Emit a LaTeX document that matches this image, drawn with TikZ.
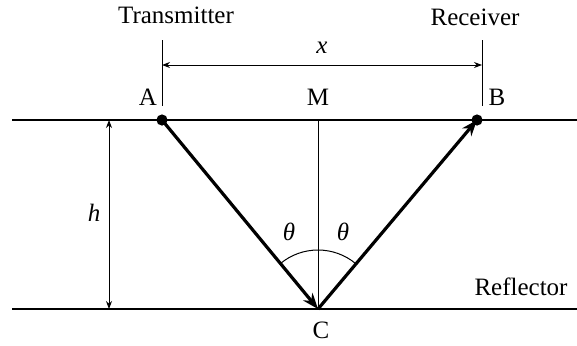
\documentclass[tikz,border=0pt]{standalone}
\usepackage{fontspec}
\setmainfont{Liberation Serif}
\usetikzlibrary{arrows.meta}

\begin{document}
\begin{tikzpicture}[x=0.5pt, y=0.5pt, font=\fontsize{12.5}{15}\selectfont,
    ray/.style={line width=1.6pt, -{Stealth[length=8pt, width=6pt]}},
    layer/.style={line width=1.2pt},
    thinline/.style={line width=0.5pt},
    dimline/.style={line width=0.5pt, {Stealth[length=4pt, width=3pt]}-{Stealth[length=4pt, width=3pt]}}]
    \useasboundingbox (0,0) rectangle (577,345);
    % points on the surface and the reflector
    \coordinate (A) at (162,225);
    \coordinate (B) at (477,225);
    \coordinate (M) at (318,225);
    \coordinate (C) at (318,36);
    \coordinate (surfL) at (12,225);
    \coordinate (surfR) at (577,225);
    \coordinate (reflL) at (12,36);
    \coordinate (reflR) at (577,36);
    \draw[layer] (surfL) -- (surfR);
    \draw[layer] (reflL) -- (reflR);
    % dimension x
    \coordinate (extAtop) at (162,305);
    \coordinate (extAbot) at (162,239);
    \coordinate (extBtop) at (482,305);
    \coordinate (extBbot) at (482,239);
    \draw[thinline] (extAtop) -- (extAbot);
    \draw[thinline] (extBtop) -- (extBbot);
    \coordinate (dimA) at (162,280);
    \coordinate (dimB) at (482,280);
    \draw[dimline] (dimA) -- node[name=xlab, above=2pt] {\textit{x}} (dimB);
    % dimension h
    \coordinate (hTop) at (109,225);
    \coordinate (hBot) at (109,36);
    \draw[dimline] (hTop) -- (hBot);
    \node[name=hlab] at (94,132) {\textit{h}};
    % normal at C
    \draw[thinline] (M) -- (C);
    % rays
    \draw[ray] (A) -- (C);
    \draw[ray] (C) -- (B);
    \fill (A) circle (2.8pt);
    \fill (B) circle (2.8pt);
    \draw[thinline] ([shift={(50:59)}]C) arc[start angle=50, end angle=130, radius=59];
    \node[name=thetaL] at (289,113) {\textit{θ}};
    \node[name=thetaR] at (343,113) {\textit{θ}};
    % labels
    \node[name=trans] at (176,330) {Transmitter};
    \node[name=recv] at (475,328) {Receiver};
    \node[name=labA] at (148,248) {A};
    \node[name=labM] at (318,248) {M};
    \node[name=labB] at (497,248) {B};
    \node[name=labC] at (321,15) {C};
    \node[name=refl] at (521,58) {Reflector};
\end{tikzpicture}
\end{document}
